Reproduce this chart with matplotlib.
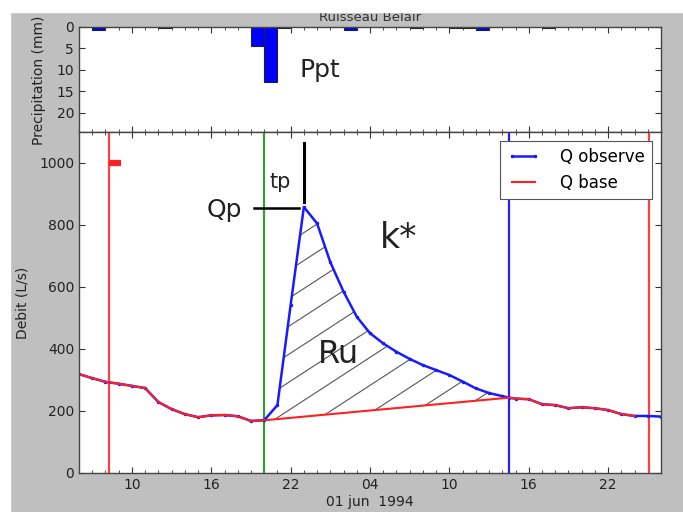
import numpy as np
import matplotlib
matplotlib.use("Agg")
import matplotlib.pyplot as plt
from matplotlib.patches import Rectangle
from matplotlib.ticker import FixedLocator, MultipleLocator

# hours counted from 31 May 1994 00:00
hours_obs = [6, 7, 8, 9, 10, 11, 12, 13, 14, 15, 16, 17, 18, 19, 20, 21, 22, 23, 24, 25,
             26, 27, 28, 29, 30, 31, 32, 33, 34, 35, 36, 37, 38, 38.5, 39, 40, 41, 42,
             43, 44, 45, 46, 47, 48, 49, 50]
q_obs = [319, 306, 294, 288, 281, 274, 229, 206, 190, 180, 186, 187, 183, 168, 170, 219,
         542, 858, 805, 680, 585, 504, 451, 418, 391, 368, 348, 332, 316, 295, 273, 258,
         248, 243, 240, 238, 222, 219, 209, 212, 209, 203, 190, 184, 184, 182]

hours_base = [6, 7, 8, 9, 10, 11, 12, 13, 14, 15, 16, 17, 18, 19, 20, 38.5, 39, 40, 41, 42,
              43, 44, 45, 46, 47, 48]
q_base = [319, 306, 294, 288, 281, 274, 229, 206, 190, 180, 186, 187, 183, 168, 170, 243,
          240, 238, 222, 219, 209, 212, 209, 203, 190, 184]

# hourly precipitation (bar starts at the given hour)
hours_ppt = [7, 12, 19, 20, 21, 26, 31, 34, 35, 36, 41]
ppt = [0.7, 0.2, 4.4, 12.8, 0.2, 0.6, 0.2, 0.2, 0.2, 0.7, 0.2]

event_start, event_end = 20, 38.5
peak_time, peak_q = 23, 858
vlines = [(8.3, "#ff4040"), (20, "#3a9a3a"), (38.5, "#2020ff"), (49.1, "#ff4040")]

tick_hours = [10, 16, 22, 28, 34, 40, 46]
tick_labels = ["10", "16", "22", "04", "10", "16", "22"]

W, H = 683, 512
fig = plt.figure(figsize=(W / 100, H / 100), dpi=100, facecolor="#bfbfbf")

ax_p = fig.add_axes([79 / W, 1 - 132 / H, 582 / W, 105 / H])
ax_q = fig.add_axes([79 / W, 39 / H, 582 / W, (473 - 132) / H])

for ax in (ax_p, ax_q):
    ax.set_xlim(6, 50)
    ax.xaxis.set_major_locator(FixedLocator(tick_hours))
    ax.xaxis.set_minor_locator(MultipleLocator(1))
    ax.tick_params(which="both", direction="in", top=True, right=True,
                   labelsize=10, colors="#333333", labelcolor="#222222")
    ax.tick_params(which="major", length=4, width=0.8)
    ax.tick_params(which="minor", length=2, width=0.6)
    for s in ax.spines.values():
        s.set_color("#444444")
        s.set_linewidth(1.0)

# precipitation panel
ax_p.bar(hours_ppt, ppt, width=1, align="edge", color="#0000ff",
         edgecolor="#222222", linewidth=0.8)
ax_p.set_ylim(24.5, 0)
ax_p.set_yticks([0, 5, 10, 15, 20])
ax_p.tick_params(labelbottom=False)
ax_p.set_title("Ruisseau Belair", fontsize=9.5, color="#333333", pad=4)
ax_p.text(24.2, 10, "Ppt", fontsize=18, ha="center", va="center", color="#222222")

# discharge panel
ax_q.set_ylim(0, 1100)
ax_q.set_yticks([0, 200, 400, 600, 800, 1000])
ax_q.set_xticklabels(tick_labels)

# runoff area between observed flow and base flow, hatched with sparse lines
i0 = hours_obs.index(event_start)
i1 = hours_obs.index(event_end)
poly_x = hours_obs[i0:i1 + 1] + [event_start]
poly_y = q_obs[i0:i1 + 1] + [q_base[hours_base.index(event_start)]]
area = ax_q.fill(poly_x, poly_y, facecolor="none", edgecolor="none")[0]
for c in np.arange(-1.2, 1.0, 0.082):
    ln, = ax_q.plot([0, 1], [c, c + 1.11], transform=ax_q.transAxes,
                    color="#555555", linewidth=0.8)
    ln.set_clip_path(area)

for xv, c in vlines:
    ax_q.axvline(xv, color=c, linewidth=1.6)
ax_q.plot([8.3, 9.2], [1000, 1000], color="#ff2020", linewidth=4.5, solid_capstyle="butt")

ax_q.plot(hours_obs, q_obs, color="#1a1aff", linewidth=1.8, marker=".", markersize=3,
          label="Q observe")
ax_q.plot(hours_base, q_base, color="#ff2020", linewidth=1.5, label="Q base")

# annotations for peak flow and time to peak
ax_q.plot([peak_time, peak_time], [874, 1065], color="black", linewidth=2.2)
ax_q.plot([19.2, peak_time - 0.35], [peak_q - 3, peak_q - 3], color="black", linewidth=1.8)
ax_q.text(17.0, 848, "Qp", fontsize=18, ha="center", va="center", color="#222222")
ax_q.text(21.2, 939, "tp", fontsize=15, ha="center", va="center", color="#222222")
ax_q.text(30.2, 758, "k*", fontsize=25, ha="center", va="center", color="#222222")
ax_q.text(25.6, 381, "Ru", fontsize=23, ha="center", va="center", color="#222222")

ax_q.set_xlabel("01 jun  1994", fontsize=10, color="#222222", labelpad=2)
leg = ax_q.legend(loc="upper right", fontsize=12, fancybox=False, numpoints=2,
                  handlelength=2.0, handletextpad=1.2, borderaxespad=0.55,
                  borderpad=0.4, framealpha=1)
leg.get_frame().set_edgecolor("#555555")
leg.get_frame().set_linewidth(0.8)

fig.text(22 / W, 1 - 303 / H, "Debit (L/s)", rotation=90, ha="center", va="center",
         fontsize=10, color="#222222")
fig.text(39 / W, 1 - 80 / H, "Precipitation (mm)", rotation=90, ha="center", va="center",
         fontsize=10, color="#222222")

# white screenshot margin on top and left
fig.add_artist(Rectangle((0, 1 - 12 / H), 1, 12 / H, transform=fig.transFigure,
                         color="white", zorder=10))
fig.add_artist(Rectangle((0, 0), 10 / W, 1, transform=fig.transFigure,
                         color="white", zorder=10))

fig.savefig("out.png", dpi=100, facecolor=fig.get_facecolor())
